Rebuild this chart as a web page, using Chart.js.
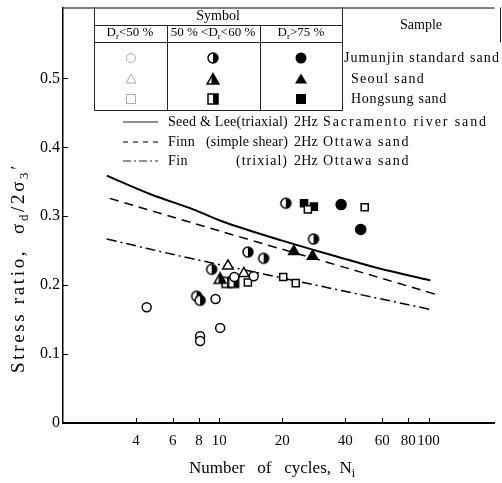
<!DOCTYPE html>
<html lang="en">
<head>
  <meta charset="UTF-8" />
  <title>Stress ratio vs number of cycles</title>
  <script src="https://cdn.jsdelivr.net/npm/chart.js"></script>
  <style>
    html, body { margin: 0; padding: 0; background: #fff; }
    #wrap { width: 502px; height: 483px; position: relative; overflow: hidden; }
  </style>
</head>
<body>
  <div id="wrap"><canvas id="chart" width="502" height="483"></canvas></div>

  <script>
    const SERIF = '"Liberation Serif", "DejaVu Serif", serif';

    // axis ticks
    const cycleTicks = [4, 6, 8, 10, 20, 40, 60, 80, 100];
    const ratioTicks = [0, 0.1, 0.2, 0.3, 0.4, 0.5];

    // reference curves
    const seedLeeN = [2.9, 4.7, 7.5, 10.7, 19.8, 37, 57, 102];
    const seedLeeRatio = [0.359, 0.332, 0.310, 0.291, 0.265, 0.241, 0.225, 0.207];
    const finnShearN = [3, 14.3, 33, 110];
    const finnShearRatio = [0.326, 0.265, 0.233, 0.186];
    const finTriaxN = [2.9, 7.3, 105];
    const finTriaxRatio = [0.267, 0.239, 0.164];

    // test results: Jumunjin / Seoul / Hongsung, by relative density
    const jumunjinLooseN = [4.5, 9.6, 10.1, 8.1, 8.1, 11.8, 14.6];
    const jumunjinLooseRatio = [0.168, 0.180, 0.138, 0.126, 0.119, 0.212, 0.213];
    const jumunjinMediumN = [7.8, 8.1, 9.2, 13.7, 16.3, 20.8, 28.2];
    const jumunjinMediumRatio = [0.184, 0.178, 0.223, 0.248, 0.239, 0.319, 0.267];
    const jumunjinDenseN = [38.2, 47.4];
    const jumunjinDenseRatio = [0.317, 0.281];

    const seoulLooseN = [11, 13.1];
    const seoulLooseRatio = [0.228, 0.217];
    const seoulMediumN = [10.1];
    const seoulMediumRatio = [0.210];
    const seoulDenseN = [22.7, 27.9];
    const seoulDenseRatio = [0.249, 0.242];

    const hongsungLooseN = [13.7, 20.2, 23.2, 26.5, 49.5];
    const hongsungLooseRatio = [0.204, 0.212, 0.203, 0.310, 0.313];
    const hongsungMediumN = [10.9, 11.7];
    const hongsungMediumRatio = [0.204, 0.204];
    const hongsungDenseN = [25.4, 28.3];
    const hongsungDenseRatio = [0.319, 0.314];

    const pts = (xs, ys) => xs.map((x, i) => ({ x: x, y: ys[i] }));

    // half filled markers (left white, right black)
    function halfMarker(kind) {
      const c = document.createElement('canvas');
      c.width = 14; c.height = 14;
      const g = c.getContext('2d');
      g.lineWidth = 1.5;
      g.strokeStyle = '#000';
      g.fillStyle = '#fff';
      g.beginPath();
      if (kind === 'circle') g.arc(7, 7, 5, 0, Math.PI * 2);
      else if (kind === 'tri') { g.moveTo(7, 1.5); g.lineTo(12.8, 12); g.lineTo(1.2, 12); g.closePath(); }
      else g.rect(2, 2, 10, 10);
      g.fill();
      g.save();
      g.clip();
      g.fillStyle = '#000';
      g.fillRect(kind === 'tri' ? 5.5 : 7, 0, 14, 14);
      g.restore();
      g.stroke();
      return c;
    }
    const halfCircle = halfMarker('circle');
    const halfTri = halfMarker('tri');
    const halfSquare = halfMarker('square');

    function scatterSet(data, style, fill, radius) {
      return {
        type: 'scatter',
        data: data,
        pointStyle: style,
        pointRadius: radius,
        pointBackgroundColor: fill,
        pointBorderColor: '#000',
        pointBorderWidth: 1.5,
        order: 1
      };
    }

    function lineSet(data, width, dash) {
      return {
        type: 'line',
        data: data,
        borderColor: '#000',
        borderWidth: width,
        borderDash: dash,
        pointRadius: 0,
        tension: 0.35,
        fill: false,
        order: 10
      };
    }

    // draws text with subscripts: parts = [[text, isSub], ...]
    // if fitW is given, letter spacing is set so the run is that wide
    function richText(ctx, parts, x, y, size, align, fitW) {
      const subSize = Math.round(size * 0.7);
      ctx.letterSpacing = '0px';
      let w = 0, n = 0;
      parts.forEach(p => {
        ctx.font = (p[1] ? subSize : size) + 'px ' + SERIF;
        w += ctx.measureText(p[0]).width;
        n += p[0].length;
      });
      let ls = 0;
      if (fitW) ls = (fitW - w) / n;
      ctx.letterSpacing = ls + 'px';
      const total = w + ls * n;
      let cx = align === 'center' ? x - total / 2 : x;
      ctx.textAlign = 'left';
      ctx.textBaseline = 'middle';
      parts.forEach(p => {
        ctx.font = (p[1] ? subSize : size) + 'px ' + SERIF;
        ctx.fillText(p[0], cx, p[1] ? y + size * 0.3 : y);
        cx += ctx.measureText(p[0]).width;
      });
      ctx.letterSpacing = '0px';
    }

    function line(ctx, x1, y1, x2, y2) {
      ctx.beginPath();
      ctx.moveTo(x1, y1);
      ctx.lineTo(x2, y2);
      ctx.stroke();
    }

    function drawOpen(ctx, kind, x, y, color) {
      ctx.save();
      ctx.strokeStyle = color;
      ctx.lineWidth = 1;
      ctx.beginPath();
      if (kind === 'circle') ctx.arc(x, y, 4.5, 0, Math.PI * 2);
      else if (kind === 'tri') { ctx.moveTo(x, y - 5); ctx.lineTo(x + 5, y + 4); ctx.lineTo(x - 5, y + 4); ctx.closePath(); }
      else ctx.rect(x - 4.5, y - 4.5, 9, 9);
      ctx.stroke();
      ctx.restore();
    }

    function drawFilled(ctx, kind, x, y) {
      ctx.save();
      ctx.fillStyle = '#000';
      ctx.beginPath();
      if (kind === 'circle') ctx.arc(x, y, 5.5, 0, Math.PI * 2);
      else if (kind === 'tri') { ctx.moveTo(x, y - 5.5); ctx.lineTo(x + 6, y + 4.5); ctx.lineTo(x - 6, y + 4.5); ctx.closePath(); }
      else ctx.rect(x - 5, y - 5, 10, 10);
      ctx.fill();
      ctx.restore();
    }

    const framePlugin = {
      id: 'frame',
      afterDraw(chart) {
        const ctx = chart.ctx;
        const a = chart.chartArea;
        const xs = chart.scales.x, ys = chart.scales.y;
        ctx.save();
        ctx.strokeStyle = '#000';
        ctx.fillStyle = '#000';

        // top frame
        ctx.lineWidth = 1;
        line(ctx, a.left, a.top + 0.5, a.right, a.top + 0.5);

        // inward tick marks
        cycleTicks.forEach(v => {
          const px = Math.round(xs.getPixelForValue(v)) + 0.5;
          line(ctx, px, a.bottom, px, a.bottom - 5);
        });
        ratioTicks.forEach(v => {
          const py = Math.round(ys.getPixelForValue(v)) + 0.5;
          line(ctx, a.left, py, a.left + 5, py);
        });

        // axis titles
        ctx.save();
        ctx.translate(19, 268);
        ctx.rotate(-Math.PI / 2);
        richText(ctx, [['Stress ratio,  \u03c3', false], ['d', true], ['/2\u03c3', false], ['3', true], ['\u2032', false]], 0, 0, 19, 'center', 210);
        ctx.restore();
        richText(ctx, [['Number   of   cycles,  N', false], ['i', true]], 272, 469, 17, 'center');

        // symbol table
        ctx.lineWidth = 1;
        ctx.strokeStyle = '#222';
        const L = 94.5, C1 = 167.5, C2 = 260.5, C3 = 342.5, T = a.top, R1 = 25.5, R2 = 42.5, B = 110.5;
        line(ctx, L, T, L, B);
        line(ctx, L, R1, C3, R1);
        line(ctx, L, R2, C3, R2);
        line(ctx, L, B, C3, B);
        line(ctx, C1, R1, C1, B);
        line(ctx, C2, R1, C2, B);
        line(ctx, C3, T, C3, B);
        line(ctx, 500.5, T, 500.5, R2);

        richText(ctx, [['Symbol', false]], 218, 16, 14, 'center');
        richText(ctx, [['Sample', false]], 421, 25, 14, 'center');
        richText(ctx, [['D', false], ['r', true], ['<50 %', false]], 130, 33, 13, 'center');
        richText(ctx, [['50 % <D', false], ['r', true], ['<60 %', false]], 213, 33, 13, 'center');
        richText(ctx, [['D', false], ['r', true], ['>75 %', false]], 301, 33, 13, 'center');

        const rows = [58, 79, 99];
        const kinds = ['circle', 'tri', 'square'];
        const halves = [halfCircle, halfTri, halfSquare];
        rows.forEach((ry, i) => {
          drawOpen(ctx, kinds[i], 131, ry, '#aaa');
          ctx.drawImage(halves[i], 213 - 7, ry - 7);
          drawFilled(ctx, kinds[i], 301, ry);
        });
        richText(ctx, [['Jumunjin standard sand', false]], 344, 58, 14, 'left', 156);
        richText(ctx, [['Seoul sand', false]], 351, 79, 14, 'left', 74);
        richText(ctx, [['Hongsung sand', false]], 351, 99, 14, 'left', 96);

        // line legend
        const ly = [122, 142, 161];
        ctx.lineWidth = 1.2;
        ctx.setLineDash([]);
        line(ctx, 123, ly[0], 158, ly[0]);
        ctx.setLineDash([5, 5]);
        line(ctx, 123, ly[1], 158, ly[1]);
        ctx.setLineDash([8, 3, 2, 3]);
        line(ctx, 123, ly[2], 158, ly[2]);
        ctx.setLineDash([]);

        richText(ctx, [['Seed & Lee(triaxial)', false]], 168, ly[0], 14, 'left', 120);
        richText(ctx, [['Finn', false]], 168, ly[1], 14, 'left', 27);
        richText(ctx, [['(simple shear)', false]], 206, ly[1], 14, 'left', 82);
        richText(ctx, [['Fin', false]], 168, ly[2], 14, 'left', 20);
        richText(ctx, [['(trixial)', false]], 236, ly[2], 14, 'left', 52);
        ly.forEach(y => richText(ctx, [['2Hz', false]], 294, y, 14, 'left', 24));
        richText(ctx, [['Sacramento river sand', false]], 323, ly[0], 14, 'left', 165);
        richText(ctx, [['Ottawa sand', false]], 323, ly[1], 14, 'left', 87);
        richText(ctx, [['Ottawa sand', false]], 323, ly[2], 14, 'left', 87);
        ctx.restore();
      }
    };

    const ctx = document.getElementById('chart').getContext('2d');

    new Chart(ctx, {
      data: {
        datasets: [
          lineSet(pts(seedLeeN, seedLeeRatio), 2, []),
          lineSet(pts(finnShearN, finnShearRatio), 1.5, [9, 6]),
          lineSet(pts(finTriaxN, finTriaxRatio), 1.5, [10, 4, 2, 4]),
          scatterSet(pts(jumunjinLooseN, jumunjinLooseRatio), 'circle', '#fff', 4.5),
          scatterSet(pts(jumunjinMediumN, jumunjinMediumRatio), halfCircle, '#000', 5),
          scatterSet(pts(jumunjinDenseN, jumunjinDenseRatio), 'circle', '#000', 5),
          scatterSet(pts(seoulLooseN, seoulLooseRatio), 'triangle', '#fff', 6),
          scatterSet(pts(seoulMediumN, seoulMediumRatio), halfTri, '#000', 6),
          scatterSet(pts(seoulDenseN, seoulDenseRatio), 'triangle', '#000', 6),
          scatterSet(pts(hongsungLooseN, hongsungLooseRatio), 'rect', '#fff', 5),
          scatterSet(pts(hongsungMediumN, hongsungMediumRatio), halfSquare, '#000', 5),
          scatterSet(pts(hongsungDenseN, hongsungDenseRatio), 'rect', '#000', 5)
        ]
      },
      options: {
        responsive: false,
        animation: false,
        layout: { padding: { top: 7, right: 0, bottom: 0, left: 0 } },
        plugins: {
          legend: { display: false },
          tooltip: { enabled: false }
        },
        scales: {
          x: {
            type: 'logarithmic',
            min: 1.793,
            max: 206.4,
            afterBuildTicks: s => { s.ticks = cycleTicks.map(v => ({ value: v })); },
            afterFit: s => { s.height = 60; s.paddingLeft = 0; s.paddingRight = 0; },
            grid: { display: false, drawTicks: false },
            border: { display: true, color: '#000', width: 2 },
            ticks: {
              color: '#000',
              font: { family: SERIF, size: 15 },
              padding: 9,
              maxRotation: 0,
              autoSkip: false,
              callback: v => String(v)
            }
          },
          y: {
            type: 'linear',
            min: 0,
            max: 0.603,
            afterBuildTicks: s => { s.ticks = ratioTicks.map(v => ({ value: v })); },
            afterFit: s => { s.width = 63; s.paddingTop = 0; s.paddingBottom = 0; },
            grid: { display: false, drawTicks: false },
            border: { display: true, color: '#000', width: 1.5 },
            ticks: {
              color: '#000',
              font: { family: SERIF, size: 16 },
              padding: 3,
              callback: v => (v === 0 ? '0' : v.toFixed(1))
            }
          }
        }
      },
      plugins: [framePlugin]
    });
  </script>
</body>
</html>
